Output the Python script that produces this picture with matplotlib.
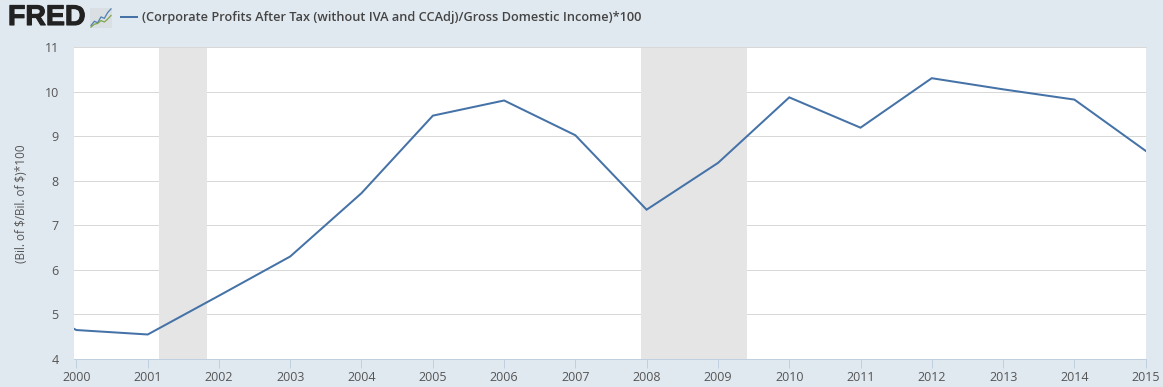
#!/usr/bin/python3
import numpy as np
import pandas as pd
import matplotlib
matplotlib.use("Agg")
import matplotlib.pyplot as plt
import matplotlib.dates as mdates
import matplotlib.patheffects as pe

# valores (datos anuales, 1 de enero)
years = list(range(1999, 2016))
values = [5.50, 4.65, 4.55, 5.42, 6.30, 7.72, 9.46, 9.80, 9.02, 7.35, 8.40, 9.87, 9.19, 10.30, 10.05, 9.82, 8.67]
recession_start = ["2001-03-01", "2007-12-01"]
recession_end = ["2001-11-01", "2009-06-01"]
y_ticks = [4, 5, 6, 7, 8, 9, 10, 11]
x_ticks = list(range(2000, 2016))
legend_label = "(Corporate Profits After Tax (without IVA and CCAdj)/Gross Domestic Income)*100"
y_label = "(Bil. of \\$/Bil. of \\$)*100"
# icono del logo
icon_a = [1, 2.2, 1.8, 3.4, 3, 4.6, 5.6]
icon_b = [0.6, 1.4, 1.6, 2.4, 2, 2.8, 3.8]

W, H = 1163, 387
BG = "#e1e9f0"
plt.rcParams["font.family"] = ["Open Sans", "DejaVu Sans"]

fig = plt.figure(figsize=(W / 100, H / 100), dpi=100, facecolor=BG)
# area del grafico en pixeles: x 74-1146, y 47-359
ax = fig.add_axes([74 / W, 1 - 359 / H, (1146 - 74) / W, (359 - 47) / H])

dates = pd.to_datetime([f"{y}-01-01" for y in years])
for s, e in zip(recession_start, recession_end):
    ax.axvspan(pd.Timestamp(s), pd.Timestamp(e), color="#e5e5e5", lw=0, zorder=1)

ax.plot(dates, values, color="#4572a7", lw=1.45, zorder=3, solid_joinstyle="miter")

ax.set_ylim(4, 11)
px_year = (1145.6 - 76.3) / 15
x0 = mdates.date2num(pd.Timestamp("2000-01-01"))
ax.set_xlim(x0 - 2.3 / px_year * 365.25, x0 + (1146 - 76.3) / px_year * 365.25)

ax.set_yticks(y_ticks)
ax.set_xticks(pd.to_datetime([f"{y}-01-01" for y in x_ticks]))
ax.set_xticklabels([str(y) for y in x_ticks])
ax.grid(True, axis="y", color="#d8d8d8", lw=0.72, zorder=0)
ax.set_axisbelow(True)

for name in ["left", "right"]:
    ax.spines[name].set_visible(False)
ax.spines["top"].set_color("#d8d8d8")
ax.spines["top"].set_linewidth(0.72)
ax.spines["bottom"].set_color("#c0d0e0")
ax.spines["bottom"].set_linewidth(0.72)

ax.tick_params(axis="y", length=0, pad=11, labelsize=9, labelcolor="#555555")
ax.tick_params(axis="x", length=6.5, width=0.72, color="#c0d0e0", pad=2, labelsize=9, labelcolor="#555555")

fig.text(22 / W, 1 - 203.5 / H, y_label, rotation=90, ha="center", va="center", fontsize=8.5, color="#555555")

# leyenda
fig.add_artist(plt.Line2D([121 / W, 137 / W], [1 - 17 / H, 1 - 17 / H], color="#4572a7", lw=1.45))
fig.text(142 / W, 1 - 17 / H, legend_label, ha="left", va="center", fontsize=9.2,
         fontweight="semibold", color="#444444")

# logo FRED
fig.text(8 / W, 1 - 18 / H, "FRED", ha="left", va="center", fontsize=20.5, fontweight="bold",
         family="Liberation Sans", color="#222222",
         path_effects=[pe.withStroke(linewidth=0.8, foreground="#222222")])
icon = fig.add_axes([90 / W, 1 - 28 / H, 22 / W, 20 / H], facecolor="#d9dfe3")
icon.plot(icon_a, color="#4f7fb0", lw=0.9)
icon.plot(icon_b, color="#7fa64a", lw=0.9)
icon.set_xticks([])
icon.set_yticks([])
for s in icon.spines.values():
    s.set_visible(False)

fig.savefig("out.png", dpi=100, facecolor=BG)
